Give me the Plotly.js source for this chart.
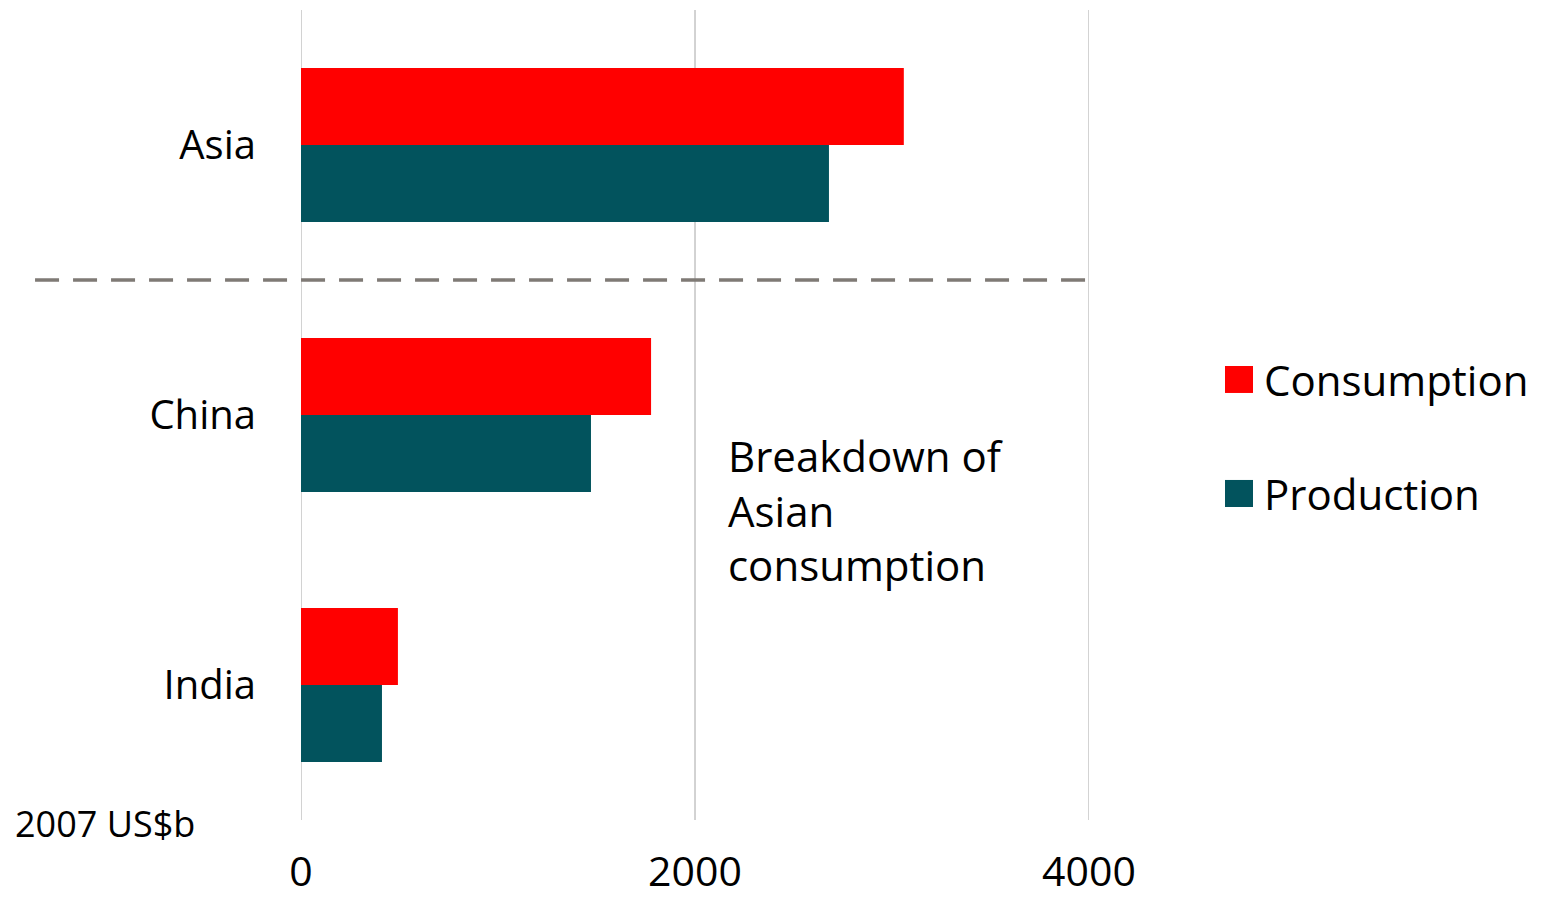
<!DOCTYPE html>
<html>
<head>
<meta charset="utf-8">
<script src="https://cdn.plot.ly/plotly-3.0.1.min.js"></script>
<style>html,body{margin:0;padding:0;background:#fff;}#chart{width:1546px;height:897px;}</style>
</head>
<body>
<div id="chart"></div>
<script>
const regions = ["Asia", "China", "India"];
const consumption = [3060, 1777, 492];
const production = [2680, 1472, 411];
const seriesNames = ["Consumption", "Production"];
const xTicks = [0, 2000, 4000];

const FONT = "Open Sans, Noto Sans, sans-serif";
const RED = "#FF0000";
const TEAL = "#02535D";

const traces = [
  {type: "bar", orientation: "h", name: seriesNames[0], y: regions, x: consumption,
   marker: {color: RED}, showlegend: false, hoverinfo: "x+y"},
  {type: "bar", orientation: "h", name: seriesNames[1], y: regions, x: production,
   marker: {color: TEAL}, showlegend: false, hoverinfo: "x+y"}
];

const gridShapes = xTicks.map(v => ({
  type: "line", xref: "x", yref: "paper", x0: v, x1: v, y0: 0, y1: 1, layer: "below",
  line: {color: "#A6A6A6", width: 1}
}));

const layout = {
  width: 1546, height: 897,
  margin: {l: 301, r: 457, t: 10, b: 77},
  paper_bgcolor: "#fff", plot_bgcolor: "#fff",
  barmode: "group", bargap: 0.43, bargroupgap: 0,
  font: {family: FONT, color: "#000"},
  xaxis: {
    range: [0, 4000], tickvals: xTicks, ticktext: xTicks.map(String),
    showgrid: false, zeroline: false, showline: false, ticks: "",
    ticklabelstandoff: 24,
    tickfont: {size: 41, family: FONT, color: "#000"}, fixedrange: true
  },
  yaxis: {
    type: "category", categoryorder: "array", categoryarray: regions,
    autorange: "reversed", showgrid: false, zeroline: false, showline: false,
    ticks: "", ticklabelstandoff: 44,
    tickfont: {size: 40, family: FONT, color: "#000"}, fixedrange: true
  },
  shapes: gridShapes.concat([
    {type: "line", xref: "paper", yref: "y", x0: -0.3375, x1: 1, y0: 0.5, y1: 0.5,
     line: {color: "#7F7A75", width: 3.5, dash: "24px,14px"}},
    {type: "rect", xref: "paper", yref: "paper", x0: 1.1726, x1: 1.2081, y0: 0.5272, y1: 0.5605,
     fillcolor: RED, line: {width: 0}},
    {type: "rect", xref: "paper", yref: "paper", x0: 1.1726, x1: 1.2081, y0: 0.3864, y1: 0.4198,
     fillcolor: TEAL, line: {width: 0}}
  ]),
  annotations: [
    {xref: "paper", yref: "paper", x: 1.2195, y: 0.5444, xanchor: "left", yanchor: "middle",
     text: seriesNames[0], showarrow: false, font: {size: 42, family: FONT, color: "#000"}},
    {xref: "paper", yref: "paper", x: 1.2195, y: 0.4037, xanchor: "left", yanchor: "middle",
     text: seriesNames[1], showarrow: false, font: {size: 42, family: FONT, color: "#000"}},
    {xref: "paper", yref: "paper", x: 0.5395, y: 0.383, xanchor: "left", yanchor: "middle",
     align: "left", text: "Breakdown of<br>Asian<br>consumption", showarrow: false,
     font: {size: 42, family: FONT, color: "#000"}},
    {xref: "paper", yref: "paper", x: -0.366, y: -0.004, xanchor: "left", yanchor: "middle",
     text: "2007 US$b", showarrow: false, font: {size: 36, family: FONT, color: "#000"}}
  ]
};

Plotly.newPlot("chart", traces, layout, {displayModeBar: false, staticPlot: true});
</script>
</body>
</html>
